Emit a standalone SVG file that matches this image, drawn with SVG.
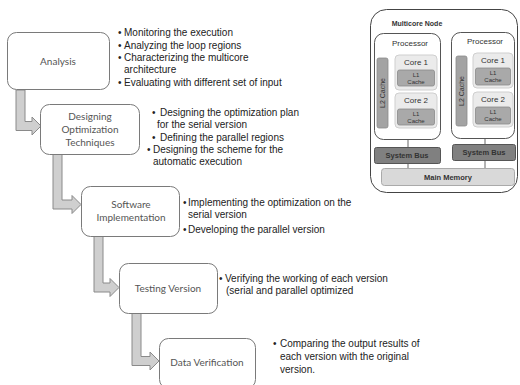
<svg xmlns="http://www.w3.org/2000/svg" width="520" height="385" viewBox="0 0 520 385">
<style>
.box{fill:#fff;stroke:#7a7a7a;stroke-width:1}
.lbl{font-family:Lato,"Liberation Sans",sans-serif;font-size:10px;fill:#555;text-anchor:middle}
.bl{font-family:"Liberation Sans",Arial,sans-serif;font-size:10px;fill:#222}
.arr{fill:#cfcfcf;stroke:#8a8a8a;stroke-width:1}
.proc{fill:#fff;stroke:#555;stroke-width:1}
.core{fill:#ebebeb;stroke:#cfcfcf;stroke-width:1}
.l1{fill:#a9a9a9;stroke:#8a8a8a;stroke-width:.8}
.l2{fill:#a3a3a3;stroke:#8a8a8a;stroke-width:.8}
.bus{fill:#808080;stroke:#555;stroke-width:1}
.mem{fill:#d9d9d9;stroke:#aaa;stroke-width:1}
.t{font-family:"Liberation Sans",Arial,sans-serif;fill:#333;text-anchor:middle}
.wire{stroke:#666;stroke-width:1}
</style>
<g id="connectors">
<path class="arr" d="M16,90 H25 V121.5 H32 V117 L41,126 L32,135 V130.5 H16 Z"/>
<path class="arr" d="M53,154 H62 V200 H72 V195.5 L81,204.5 L72,213.5 V209 H53 Z"/>
<path class="arr" d="M94,236 H103 V283 H110 V278.5 L119,287.5 L110,296.5 V292 H94 Z"/>
<path class="arr" d="M132,313 H141 V356.5 H150 V352 L159,361 L150,370 V365.5 H132 Z"/>
</g>
<g id="analysis">
<rect class="box" x="7.5" y="32.5" width="102" height="57" rx="9"/>
<text class="lbl" x="58" y="65">Analysis</text>
<text class="bl" x="118" y="36">•</text><text class="bl" x="124" y="36">Monitoring the execution</text>
<text class="bl" x="118" y="49">•</text><text class="bl" x="124" y="49">Analyzing the loop regions</text>
<text class="bl" x="118" y="61">•</text><text class="bl" x="124" y="61">Characterizing the multicore</text>
<text class="bl" x="124" y="73">architecture</text>
<text class="bl" x="118" y="86">•</text><text class="bl" x="124" y="86">Evaluating with different set of input</text>
</g>
<g id="designing">
<rect class="box" x="40.5" y="104.5" width="99" height="50" rx="9"/>
<text class="lbl" x="90" y="120">Designing</text>
<text class="lbl" x="90" y="133">Optimization</text>
<text class="lbl" x="90" y="146">Techniques</text>
<text class="bl" x="152" y="116">•</text><text class="bl" x="160" y="116">Designing the optimization plan</text>
<text class="bl" x="157" y="128">for the serial version</text>
<text class="bl" x="152" y="141">•</text><text class="bl" x="160" y="141">Defining  the parallel  regions</text>
<text class="bl" x="147" y="153">•</text><text class="bl" x="153" y="153">Designing the scheme for the</text>
<text class="bl" x="153" y="165">automatic execution</text>
</g>
<g id="software">
<rect class="box" x="81.5" y="186.5" width="98" height="50" rx="9"/>
<text class="lbl" x="131" y="208">Software</text>
<text class="lbl" x="131" y="221">Implementation</text>
<text class="bl" x="183" y="206">•</text><text class="bl" x="188" y="206">Implementing the optimization on the</text>
<text class="bl" x="188" y="218">serial version</text>
<text class="bl" x="183" y="233">•</text><text class="bl" x="188" y="233">Developing the parallel version</text>
</g>
<g id="testing">
<rect class="box" x="119.5" y="263.5" width="98" height="50" rx="9"/>
<text class="lbl" x="168" y="292">Testing Version</text>
<text class="bl" x="219" y="282">•</text><text class="bl" x="225" y="282">Verifying the working of each version</text>
<text class="bl" x="226" y="294">(serial and parallel optimized</text>
</g>
<g id="dataverification">
<rect class="box" x="159.5" y="338.5" width="96" height="50" rx="9"/>
<text class="lbl" x="207" y="366">Data Verification</text>
<text class="bl" x="273" y="347">•</text><text class="bl" x="280" y="347">Comparing the output results of</text>
<text class="bl" x="280" y="360">each version with the original</text>
<text class="bl" x="280" y="373">version.</text>
</g>
<g id="multicore">
<rect x="370.5" y="9.5" width="147" height="183" rx="16" fill="#fff" stroke="#444" stroke-width="1"/>
<text class="t" x="417" y="26" font-size="7" font-weight="bold" fill="#333">Multicore Node</text>
<g id="processor1">
<rect class="proc" x="374.5" y="33.5" width="66" height="106" rx="9"/>
<text class="t" x="410" y="46" font-size="8">Processor</text>
<rect class="l2" x="377" y="58" width="11" height="70" rx="2"/>
<text class="t" font-size="7" transform="translate(385 93) rotate(-90)">L2 Cache</text>
<rect class="core" x="395" y="55" width="42" height="35" rx="4"/>
<text class="t" x="416" y="65" font-size="8">Core 1</text>
<rect class="l1" x="397.5" y="70" width="37" height="16" rx="2"/>
<text class="t" x="416" y="77" font-size="6">L1</text>
<text class="t" x="416" y="84" font-size="6">Cache</text>
<rect class="core" x="395" y="93" width="42" height="35" rx="4"/>
<text class="t" x="416" y="103" font-size="8">Core 2</text>
<rect class="l1" x="397.5" y="109" width="37" height="16" rx="2"/>
<text class="t" x="416" y="116" font-size="6">L1</text>
<text class="t" x="416" y="123" font-size="6">Cache</text>
</g>
<g id="processor2">
<rect class="proc" x="451.5" y="32.5" width="63" height="106" rx="9"/>
<text class="t" x="485" y="44" font-size="8">Processor</text>
<rect class="l2" x="456" y="56" width="11" height="70" rx="2"/>
<text class="t" font-size="7" transform="translate(464 91) rotate(-90)">L2 Cache</text>
<rect class="core" x="473" y="53" width="40" height="35" rx="4"/>
<text class="t" x="493" y="63" font-size="8">Core 1</text>
<rect class="l1" x="475.5" y="68" width="35" height="17" rx="2"/>
<text class="t" x="493" y="75" font-size="6">L1</text>
<text class="t" x="493" y="82" font-size="6">Cache</text>
<rect class="core" x="473" y="92" width="40" height="35" rx="4"/>
<text class="t" x="493" y="102" font-size="8">Core 2</text>
<rect class="l1" x="475.5" y="107" width="35" height="17" rx="2"/>
<text class="t" x="493" y="114" font-size="6">L1</text>
<text class="t" x="493" y="121" font-size="6">Cache</text>
</g>
<line class="wire" x1="408" y1="140" x2="408" y2="147"/>
<line class="wire" x1="408" y1="163" x2="408" y2="168"/>
<line class="wire" x1="485" y1="139" x2="485" y2="144"/>
<line class="wire" x1="485" y1="161" x2="485" y2="168"/>
<g id="bus1">
<rect class="bus" x="374.5" y="147.5" width="66" height="16" rx="2"/>
<text class="t" x="407" y="158" font-size="7.5" font-weight="bold" fill="#222">System Bus</text>
</g>
<g id="bus2">
<rect class="bus" x="452.5" y="144.5" width="63" height="16" rx="2"/>
<text class="t" x="484" y="155" font-size="7.5" font-weight="bold" fill="#222">System Bus</text>
</g>
<g id="memory">
<rect class="mem" x="381.5" y="168.5" width="133" height="17" rx="3"/>
<text class="t" x="448" y="180" font-size="7.5" font-weight="bold" fill="#333">Main Memory</text>
</g>
</g>
</svg>
